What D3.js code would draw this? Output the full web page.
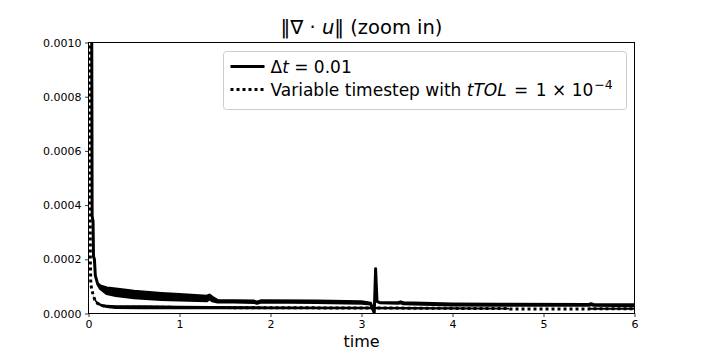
<!DOCTYPE html>
<html>
<head>
<meta charset="utf-8">
<script src="https://cdn.jsdelivr.net/npm/d3@7"></script>
<style>
  body { margin: 0; background: #fff; }
  text { font-family: "DejaVu Sans", sans-serif; fill: #000; }
</style>
</head>
<body>
<div id="chart"></div>
<script>
// Data
// dt = 0.01 run: the line oscillates, so keep a low / high envelope per time
var dtTime = [0, 0.035, 0.04, 0.05, 0.055, 0.065, 0.075, 0.1, 0.13, 0.2, 0.3, 0.5, 0.8, 1.0, 1.3, 1.33, 1.36, 1.42, 1.6, 1.82, 1.85, 1.9, 2.5, 3.0, 3.1, 3.14, 3.155, 3.17, 3.2, 3.4, 3.43, 3.46, 4.0, 4.5, 5.5, 5.52, 5.55, 6.0];
var dtLow  = [0.004, 0.0011, 0.00036, 0.00034, 0.00021, 0.0002, 0.00014, 0.00011, 0.000092, 0.000074, 0.000066, 0.000058, 0.000052, 0.00005, 0.000047, 0.000054, 0.000047, 0.000042, 0.000042, 0.000041, 0.000038, 0.000042, 0.000041, 0.000038, 0.000035, 0.000002, 0.000165, 0.000045, 0.00004, 0.000038, 0.00004, 0.000036, 0.000031, 0.00003, 0.00003, 0.000033, 0.00003, 0.000029];
var dtHigh = [0.004, 0.0011, 0.00036, 0.00034, 0.00021, 0.0002, 0.00014, 0.00011, 0.000102, 0.000094, 0.00009, 0.000082, 0.000074, 0.00007, 0.000064, 0.000068, 0.00006, 0.000048, 0.000047, 0.000046, 0.000042, 0.000047, 0.000046, 0.000043, 0.000038, 0.000002, 0.000165, 0.000045, 0.00004, 0.00004, 0.000043, 0.00004, 0.000035, 0.000034, 0.000033, 0.000036, 0.000033, 0.000032];

// variable timestep run (dotted), dense stretches kept as an envelope too
var varTime = [0, 0.018, 0.02, 0.025, 0.035, 0.05, 0.07, 0.1, 0.15, 0.2, 0.3, 0.6, 1.0, 1.35, 2.0, 3.0, 4.0, 4.62, 4.63, 5.5, 5.51, 6.0];
var varLow  = [0.004, 0.0011, 0.0002, 0.00011, 0.00009, 0.00007, 0.000045, 0.000032, 0.000024, 0.00002, 0.000017, 0.000016, 0.000016, 0.000016, 0.000016, 0.000016, 0.000015, 0.000015, 0.000017, 0.000017, 0.000014, 0.000014];
var varHigh = [0.004, 0.0011, 0.0002, 0.00011, 0.00009, 0.00007, 0.000055, 0.000042, 0.000034, 0.000032, 0.00003, 0.00003, 0.000029, 0.000028, 0.000026, 0.000025, 0.000023, 0.000021, 0.000017, 0.000017, 0.000021, 0.000021];

var xTicks = [0, 1, 2, 3, 4, 5, 6];
var yTicks = [0, 0.0002, 0.0004, 0.0006, 0.0008, 0.001];

var totalWidth = 706, totalHeight = 353;
var margin = {top: 42.5, right: 71.5, bottom: 39.5, left: 88.5};
var width = totalWidth - margin.left - margin.right,
    height = totalHeight - margin.top - margin.bottom;

var dtData = dtTime.map(function(t, i) { return {t: t, lo: dtLow[i], hi: dtHigh[i]}; });
var varData = varTime.map(function(t, i) { return {t: t, lo: varLow[i], hi: varHigh[i]}; });

// set the ranges
var x = d3.scaleLinear().domain([0, 6]).range([0, width]);
var y = d3.scaleLinear().domain([0, 0.001]).range([height, 0]);

var svg = d3.select("#chart").append("svg")
    .attr("width", totalWidth)
    .attr("height", totalHeight)
    .style("background-color", "#fff")
  .append("g")
    .attr("transform", "translate(" + margin.left + "," + margin.top + ")");

svg.append("clipPath")
    .attr("id", "plot-clip")
  .append("rect")
    .attr("width", width)
    .attr("height", height);

var plot = svg.append("g").attr("clip-path", "url(#plot-clip)");

// dt = 0.01 envelope, stroked so it gets the 3px line width
var dtArea = d3.area()
    .x(function(d) { return x(d.t); })
    .y0(function(d) { return y(d.lo); })
    .y1(function(d) { return y(d.hi); });

plot.append("path")
    .datum(dtData)
    .attr("d", dtArea)
    .style("fill", "#000")
    .style("stroke", "#000")
    .style("stroke-width", 3)
    .style("stroke-linejoin", "round");

// variable timestep: dense band + dotted line
var varArea = d3.area()
    .x(function(d) { return x(d.t); })
    .y0(function(d) { return y(d.lo); })
    .y1(function(d) { return y(d.hi); });

plot.append("path")
    .datum(varData)
    .attr("d", varArea)
    .style("fill", "#000")
    .style("stroke", "none");

var varLine = d3.line()
    .x(function(d) { return x(d.t); })
    .y(function(d) { return y((d.lo + d.hi) / 2); });

plot.append("path")
    .datum(varData)
    .attr("d", varLine)
    .style("fill", "none")
    .style("stroke", "#000")
    .style("stroke-width", 3)
    .style("stroke-dasharray", "3,3");

// draw x axis
var xAxis = svg.append("g")
    .attr("transform", "translate(0," + height + ")")
    .call(d3.axisBottom(x).tickValues(xTicks).tickSize(3.5).tickPadding(3.5).tickFormat(d3.format("d")));

// draw y axis
var yAxis = svg.append("g")
    .call(d3.axisLeft(y).tickValues(yTicks).tickSize(3.5).tickPadding(3.5).tickFormat(d3.format(".4f")));

[xAxis, yAxis].forEach(function(a) {
  a.select(".domain").remove();
  a.selectAll("line").style("stroke", "#000").style("stroke-width", 0.8);
  a.selectAll("text").style("font-size", "11px").style("font-family", "DejaVu Sans").style("fill", "#000");
});

// frame
svg.append("rect")
    .attr("width", width)
    .attr("height", height)
    .style("fill", "none")
    .style("stroke", "#000")
    .style("stroke-width", 1);

// title
var title = svg.append("text")
    .attr("x", width / 2)
    .attr("y", -8.5)
    .attr("text-anchor", "middle")
    .style("font-size", "19.5px");
title.append("tspan").text("\u2016\u2207 \u00b7 ");
title.append("tspan").style("font-style", "italic").text("u");
title.append("tspan").text("\u2016 (zoom in)");

// x label
svg.append("text")
    .attr("x", width / 2)
    .attr("y", height + 33)
    .attr("text-anchor", "middle")
    .style("font-size", "16px")
    .text("time");

// legend
var legend = svg.append("g").attr("transform", "translate(" + (223.5 - margin.left) + "," + (51.5 - margin.top) + ")");

legend.append("rect")
    .attr("width", 403)
    .attr("height", 58)
    .attr("rx", 3)
    .style("fill", "#fff")
    .style("fill-opacity", 0.8)
    .style("stroke", "#ccc")
    .style("stroke-width", 1);

legend.append("line")
    .attr("x1", 7).attr("x2", 41).attr("y1", 15).attr("y2", 15)
    .style("stroke", "#000").style("stroke-width", 3);

legend.append("line")
    .attr("x1", 7).attr("x2", 41).attr("y1", 38).attr("y2", 38)
    .style("stroke", "#000").style("stroke-width", 3).style("stroke-dasharray", "3,3");

var leg1 = legend.append("text")
    .attr("x", 47)
    .attr("y", 21)
    .style("font-size", "17px");
leg1.append("tspan").text("\u0394");
leg1.append("tspan").style("font-style", "italic").text("t");
leg1.append("tspan").text(" = 0.01");

var leg2 = legend.append("text")
    .attr("x", 47)
    .attr("y", 44)
    .style("font-size", "17px");
leg2.append("tspan").text("Variable timestep with ");
leg2.append("tspan").style("font-style", "italic").text("tTOL");
leg2.append("tspan").attr("dx", 2).text(" = ");
leg2.append("tspan").attr("dx", 2).text("1 \u00d7 10");
leg2.append("tspan").attr("dy", -7).attr("dx", 1).style("font-size", "12.5px").text("\u22124");
</script>
</body>
</html>
